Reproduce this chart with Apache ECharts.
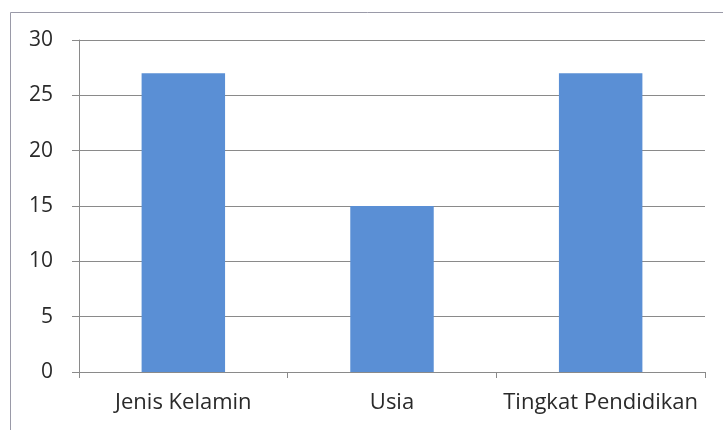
<!DOCTYPE html>
<html>
<head>
<meta charset="utf-8">
<script src="https://cdn.jsdelivr.net/npm/echarts@6/dist/echarts.min.js"></script>
<style>
  html, body { margin: 0; padding: 0; background: #fff; }
  #chart { width: 723px; height: 430px; }
</style>
</head>
<body>
<div id="chart"></div>
<script>
// Categories and counts per category
const categories = ['Jenis Kelamin', 'Usia', 'Tingkat Pendidikan'];
const counts = [27, 15, 27];
// Value axis range
const yMin = 0;
const yMax = 30;
const yStep = 5;

const chart = echarts.init(document.getElementById('chart'), null, { renderer: 'canvas' });

const textFont = 'Open Sans';

chart.setOption({
  animation: false,
  backgroundColor: '#ffffff',
  graphic: [{
    type: 'rect',
    shape: { x: 10.5, y: 12.5, width: 760, height: 460 },
    style: { fill: 'none', stroke: '#9a9aa8', lineWidth: 1 },
    silent: true
  }],
  grid: { left: 79, right: 18, top: 40, bottom: 58 },
  xAxis: {
    type: 'category',
    data: categories,
    axisLine: { show: true, lineStyle: { color: '#8a8a8a', width: 1 } },
    axisTick: { show: true, alignWithLabel: false, length: 6, lineStyle: { color: '#8a8a8a' } },
    axisLabel: { interval: 0, color: '#2a2a2a', fontFamily: textFont, fontSize: 22, margin: 20 },
    splitLine: { show: false }
  },
  yAxis: {
    type: 'value',
    min: yMin,
    max: yMax,
    interval: yStep,
    axisLine: { show: true, lineStyle: { color: '#8a8a8a', width: 1 } },
    axisTick: { show: true, length: 7, lineStyle: { color: '#8a8a8a' } },
    axisLabel: { color: '#2a2a2a', fontFamily: textFont, fontSize: 21, margin: 26 },
    splitLine: { show: true, lineStyle: { color: '#8a8a8a', width: 1 } }
  },
  series: [{
    type: 'bar',
    data: counts,
    barWidth: '40%',
    itemStyle: { color: '#5a8fd5' }
  }]
});
</script>
</body>
</html>
